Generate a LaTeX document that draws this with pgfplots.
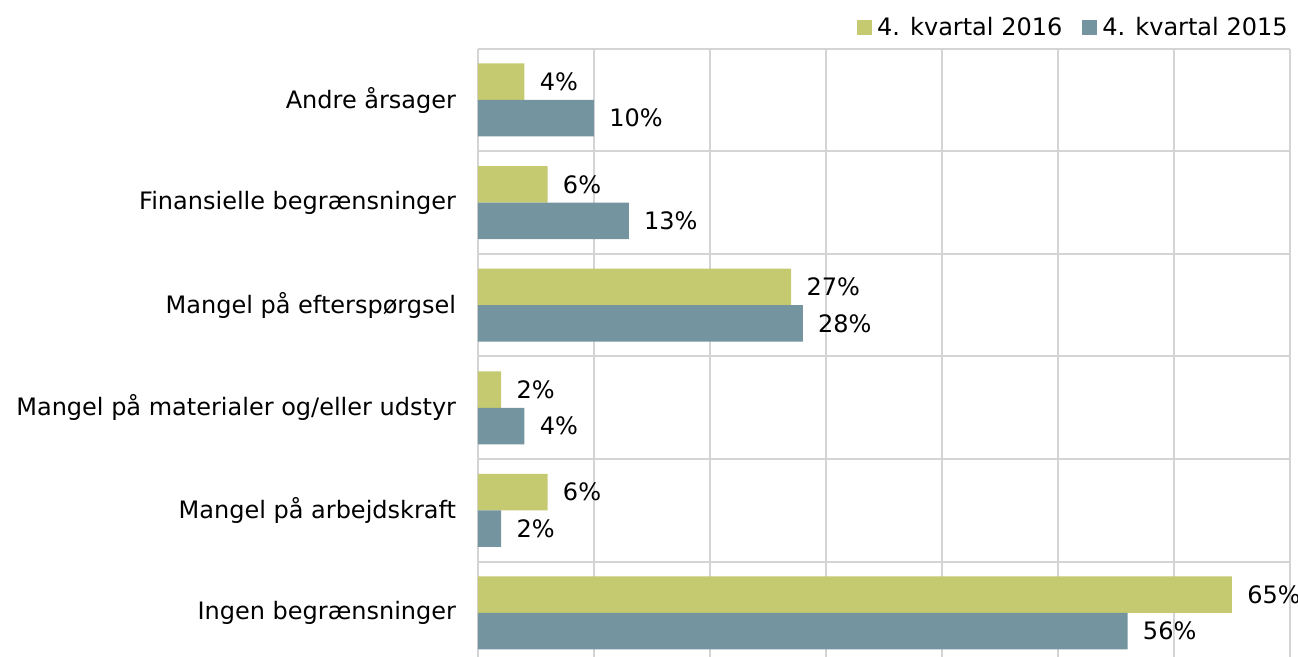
\documentclass[border=0pt]{standalone}
\usepackage{pgfplots}
\pgfplotsset{compat=1.18}
\usepackage{fontspec}
\setmainfont{DejaVu Sans}
\definecolor{cyel}{HTML}{C5C970}
\definecolor{cblu}{HTML}{7494A0}
\definecolor{cgrid}{HTML}{D4D4D4}
\newcommand{\cf}{\fontsize{12}{14.4}\selectfont}
\begin{document}
\begin{tikzpicture}[font=\cf]
\begin{axis}[
  name=ax,
  scale only axis,
  width=406pt, height=307.8pt,
  xmin=0, xmax=70,
  ymin=-0.5, ymax=5.5,
  xbar,
  bar width=18.25pt,
  xtick={0,10,...,70},
  xticklabels={},
  xmajorgrids,
  ytick={0,1,2,3,4,5},
  yticklabels={Ingen begrænsninger, Mangel på arbejdskraft, Mangel på materialer og/eller udstyr, Mangel på efterspørgsel, Finansielle begrænsninger, Andre årsager},
  minor ytick={0.5,1.5,2.5,3.5,4.5,5.5},
  yminorgrids,
  grid style={draw=cgrid, line width=1pt},
  minor grid style={draw=cgrid, line width=1pt},
  tick style={draw=none},
  axis line style={draw=none},
  yticklabel style={font=\cf, anchor=east, inner sep=0pt, xshift=-6.5pt},
  /pgf/number format/assume math mode=true,
  nodes near coords={\pgfmathprintnumber{\pgfplotspointmeta}\%},
  nodes near coords style={font=\cf, anchor=west, inner sep=0pt, xshift=7.5pt},
  legend columns=2,
  legend style={draw=none, fill=none, font=\cf, inner sep=0pt, at={(rel axis cs:1,1)}, anchor=east, yshift=10.35pt, xshift=-1pt,
    /tikz/every even column/.append style={column sep=10pt},
    nodes={inner sep=0pt, anchor=west}},
  legend image code/.code={\fill[#1] (0pt,-3.75pt) rectangle (7.5pt,3.75pt);},
  legend cell align=left,
]
\addplot[fill=cyel, draw=none, bar shift=9.125pt] coordinates {(65,0) (6,1) (2,2) (27,3) (6,4) (4,5)};
\addlegendentry{\hspace{2.5pt}4. kvartal 2016}
\addplot[fill=cblu, draw=none, bar shift=-9.125pt] coordinates {(56,0) (2,1) (4,2) (28,3) (13,4) (10,5)};
\addlegendentry{\hspace{2.5pt}4. kvartal 2015}
\end{axis}
\pgfresetboundingbox
\path[use as bounding box] ([shift={(-239pt,3.65pt)}]ax.south west) rectangle ([shift={(4pt,24.35pt)}]ax.north east);
\end{tikzpicture}
\end{document}
